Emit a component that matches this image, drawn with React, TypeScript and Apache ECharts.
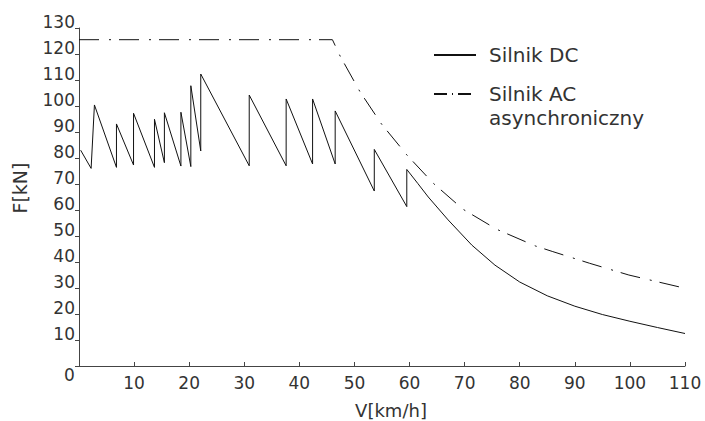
import React, { useEffect, useRef } from "react";
import * as echarts from "echarts";

// Silnik DC — sawtooth then hyperbolic-like fall [V km/h, F kN]
const dcSpeed: number[] = [
  0.3, 2.2, 2.8, 6.8, 6.8, 9.9, 9.9, 13.7, 13.7, 15.5, 15.5, 18.5, 18.5, 20.3, 20.3, 22.1, 22.1,
  30.9, 30.9, 37.6, 37.6, 42.4, 42.4, 46.5, 46.5, 53.6, 53.6, 59.5, 59.5,
  61.5, 63.4, 67, 71.3, 75.5, 80, 85, 90, 95, 100, 105, 110,
];
const dcForce: number[] = [
  83, 76, 100.4, 76.4, 93.1, 77.3, 97.2, 76.4, 94.9, 78.2, 97.4, 76.9, 97.6, 76.7, 107.8, 82.7, 112.3,
  77, 104.2, 77, 102.7, 77.7, 102.7, 77.7, 98.1, 67.3, 83.3, 61.3, 75.6,
  70.2, 65, 56.2, 46.5, 38.8, 32.3, 27, 23, 19.8, 17.2, 14.8, 12.5,
];

// Silnik AC asynchroniczny
const acSpeed: number[] = [0, 46, 47.4, 51, 54.9, 59.5, 64.3, 69.7, 75.8, 82.8, 86, 92.7, 99.8, 105, 110];
const acForce: number[] = [125.5, 125.5, 119.2, 105.5, 93.1, 81.2, 70.3, 60.3, 52.6, 46.2, 44, 39.5, 35, 32.4, 29.9];

const xTicks = { min: 0, max: 110, interval: 10 };
const yTicks = { min: 0, max: 130, interval: 10 };

const seriesNames = ["Silnik DC", "Silnik AC"];
const acLegendText = " \nSilnik AC\nasynchroniczny";

const FONT = "DejaVu Sans";
const TXT = "#333";

export default function App() {
  const ref = useRef<HTMLDivElement>(null);
  useEffect(() => {
    if (!ref.current) return;
    const chart = echarts.init(ref.current, undefined, { renderer: "svg" });
    const dcData = dcSpeed.map((v, i) => [v, dcForce[i]]);
    const acData = acSpeed.map((v, i) => [v, acForce[i]]);
    chart.setOption({
      animation: false,
      backgroundColor: "#fff",
      textStyle: { fontFamily: FONT },
      grid: { left: 79, right: 20, top: 28, bottom: 55, containLabel: false, outerBoundsMode: "none" },
      legend: {
        orient: "vertical",
        left: 433,
        top: 43,
        padding: 0,
        itemWidth: 42,
        itemHeight: 14,
        itemGap: -9,
        itemStyle: { opacity: 0 },
        textStyle: { fontFamily: FONT, fontSize: 20, color: TXT, lineHeight: 24, padding: [0, 0, 0, 8] },
        data: [
          { name: seriesNames[0] },
          { name: seriesNames[1], lineStyle: { type: [13, 5, 1, 5] } },
        ],
        formatter: (name: string) => (name === seriesNames[1] ? acLegendText : name),
      },
      xAxis: {
        type: "value",
        min: xTicks.min,
        max: xTicks.max,
        interval: xTicks.interval,
        name: "V[km/h]",
        nameLocation: "middle",
        nameGap: 35,
        nameTextStyle: { fontFamily: FONT, fontSize: 18, color: TXT, padding: [0, 0, 0, 18] },
        axisLine: { lineStyle: { color: "#444", width: 1 } },
        axisTick: { inside: true, length: 4, lineStyle: { color: "#444" } },
        axisLabel: {
          margin: 8,
          fontFamily: FONT,
          fontSize: 17,
          color: TXT,
          formatter: (v: number) => (v === 0 ? "" : String(v)),
        },
        splitLine: { show: false },
      },
      yAxis: {
        type: "value",
        min: yTicks.min,
        max: yTicks.max,
        interval: yTicks.interval,
        name: "F[kN]",
        nameLocation: "middle",
        nameGap: 50,
        nameRotate: 90,
        nameTextStyle: { fontFamily: FONT, fontSize: 19, color: TXT, padding: [0, 0, 0, 18] },
        axisLine: { show: true, lineStyle: { color: "#444", width: 1 } },
        axisTick: { show: true, inside: false, length: 4, lineStyle: { color: "#444" } },
        axisLabel: {
          margin: 4,
          fontFamily: FONT,
          fontSize: 17,
          color: TXT,
          verticalAlign: "bottom",
          lineHeight: 13,
          formatter: (v: number) => (v === 0 ? "" : String(v)),
        },
        splitLine: { show: false },
      },
      graphic: [
        {
          type: "text",
          left: 64,
          top: 366,
          style: { text: "0", fontFamily: FONT, fontSize: 17, fill: TXT },
        },
      ],
      series: [
        {
          name: seriesNames[0],
          type: "line",
          data: dcData,
          symbol: "none",
          lineStyle: { color: "#111", width: 1, type: "solid" },
          itemStyle: { color: "#111" },
        },
        {
          name: seriesNames[1],
          type: "line",
          data: acData,
          symbol: "none",
          lineStyle: { color: "#111", width: 1, type: [20, 10, 2, 8] },
          itemStyle: { color: "#111" },
        },
      ],
    });
    return () => chart.dispose();
  }, []);
  return (
    <div
      ref={ref}
      style={{ position: "absolute", left: 0, top: 0, width: 705, height: 421, background: "#fff" }}
    />
  );
}
